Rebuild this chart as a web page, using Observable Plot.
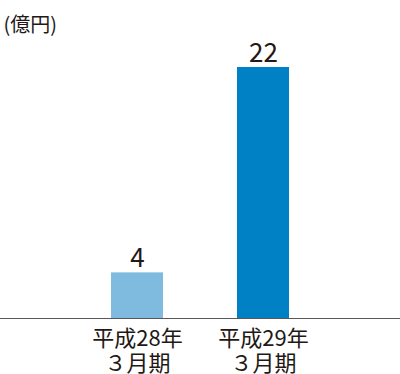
<!DOCTYPE html>
<html>
<head>
<meta charset="utf-8">
<script src="https://cdn.jsdelivr.net/npm/d3@7"></script>
<script src="https://cdn.jsdelivr.net/npm/@observablehq/plot@0.6"></script>
<style>
  html, body { margin: 0; padding: 0; background: #fff; }
  #chart { width: 400px; height: 374px; }
</style>
</head>
<body>
<div id="chart"></div>
<script>
const categories = ["平成28年3月期", "平成29年3月期"];
const labelLine1 = ["平成28年", "平成29年"];
const labelLine2 = ["３月期", "３月期"];
const values = [4, 22];
const colors = ["#7fbbdf", "#0081c6"];
const unitLabel = "(億円)";

const data = categories.map((c, i) => ({
  category: c, value: values[i], color: colors[i], l1: labelLine1[i], l2: labelLine2[i]
}));
const ink = "#231815";
const font = "'Noto Sans CJK JP', 'Noto Sans', sans-serif";

const chart = Plot.plot({
  width: 400,
  height: 374,
  marginLeft: 0,
  marginRight: 0,
  marginTop: 67,
  marginBottom: 56,
  style: { fontFamily: font, color: ink, background: "#fff" },
  x: { domain: categories, paddingInner: 0.59, paddingOuter: 0.87, align: 0.5, axis: null },
  y: { domain: [0, 22], axis: null },
  marks: [
    Plot.barY(data, { x: "category", y: "value", fill: "color" }),
    Plot.ruleY([0], { stroke: "#595757", strokeWidth: 1.2 }),
    Plot.text(data, {
      x: "category", y: "value", text: d => String(d.value),
      lineAnchor: "bottom", dy: -6, fontSize: 26, fill: ink
    }),
    Plot.text(data, {
      x: "category", text: "l1", frameAnchor: "bottom", lineAnchor: "middle",
      dy: 20, fontSize: 22, fill: ink
    }),
    Plot.text(data, {
      x: "category", text: "l2", frameAnchor: "bottom", lineAnchor: "middle",
      dy: 45, fontSize: 22, fill: ink
    }),
    Plot.text([unitLabel], {
      frameAnchor: "top-left", textAnchor: "start", lineAnchor: "middle",
      dx: 3, dy: -42, fontSize: 20, fill: ink
    })
  ]
});
document.getElementById("chart").append(chart);
</script>
</body>
</html>
